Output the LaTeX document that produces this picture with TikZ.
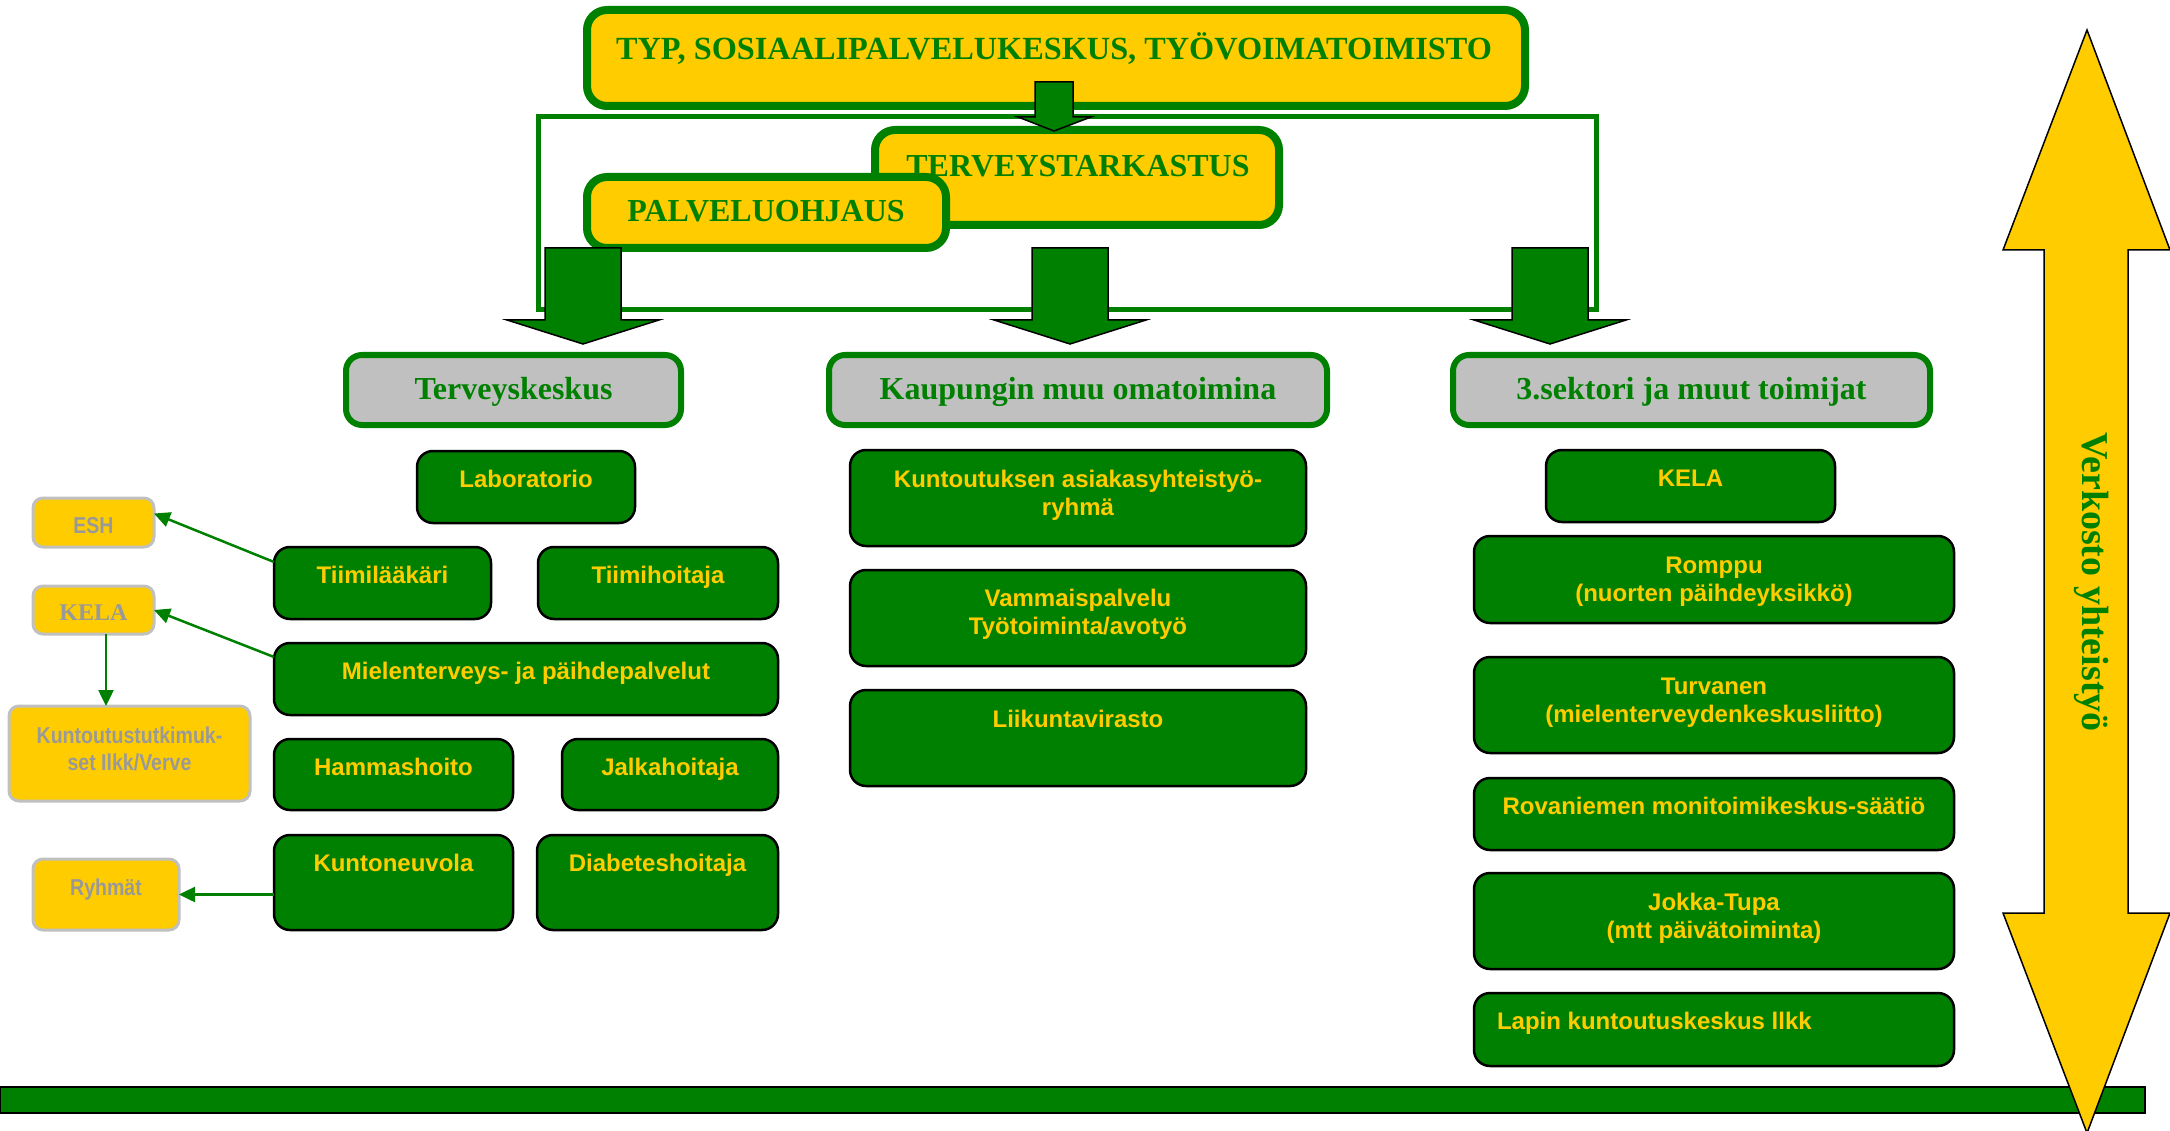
\documentclass[tikz,border=0pt]{standalone}
\usepackage{fontspec}
\setmainfont{Liberation Serif}
\newfontfamily\sansf{Liberation Sans}
\newfontfamily\narrowf[FakeStretch=0.85]{Liberation Sans}
\usetikzlibrary{arrows.meta}
\definecolor{dgreen}{HTML}{008000}
\definecolor{gold}{HTML}{FFCC00}
\definecolor{hgray}{HTML}{C0C0C0}
\definecolor{tgray}{HTML}{999999}
\newcommand\bx[6]{\node[#1, minimum width={(#5)-(#3)}, minimum height={(#6)-(#4)}] (#2) at ({((#3)+(#5))/2},{((#4)+(#6))/2}) {};}
\begin{document}
\begin{tikzpicture}[x=1pt,y=-1pt,
  every node/.style={inner sep=0pt, outer sep=0pt},
  topbox/.style={draw=dgreen, fill=gold, line width=8pt, rounded corners=20pt},
  headbox/.style={draw=dgreen, fill=hgray, line width=6pt, rounded corners=16pt},
  gbx/.style={draw=black, fill=dgreen, line width=2.5pt, rounded corners=16pt},
  ybx/.style={draw=hgray, fill=gold, line width=3pt, rounded corners=10pt},
  frame/.style={draw=dgreen, line width=5pt},
  sertxt/.style={font=\fontsize{32}{36}\selectfont\bfseries, text=dgreen, anchor=base},
  gtxt/.style={font=\sansf\fontsize{24}{28}\selectfont\bfseries, text=gold, anchor=base, align=center},
  ytxt/.style={font=\narrowf\fontsize{23}{27}\selectfont\bfseries, text=tgray, anchor=base, align=center},
  blockarrow/.style={draw=black, fill=dgreen, line width=1.5pt, line join=miter},
  thinarrow/.style={draw=dgreen, line width=2.5pt, -{Triangle[length=16pt,width=15pt]}},
  bigarrow/.style={draw=black, fill=gold, line width=1.5pt, line join=miter},
]
\useasboundingbox (0,0) rectangle (2170,1131);
% bottom bar
\bx{draw=black, fill=dgreen, line width=1.5pt}{bar}{0}{1087}{2145}{1113}
% frame
\bx{frame}{frm}{538}{117}{1596}{310}
% top boxes
\bx{topbox}{typ}{587}{10}{1525}{106}
\node[sertxt, font=\fontsize{32.3}{36}\selectfont\bfseries] (typt) at (1054,60) {TYP, SOSIAALIPALVELUKESKUS, TYÖVOIMATOIMISTO};
\bx{topbox}{ter}{875}{130}{1279}{225}
\node[sertxt] (tert) at (1078,177) {TERVEYSTARKASTUS};
\bx{topbox}{pal}{587}{177}{946}{248}
\node[sertxt] (palt) at (766,222) {PALVELUOHJAUS};
% small block arrow
\coordinate (sa) at (1054,82);
\draw[blockarrow] (sa) ++(-19,0) -- ++(0,35) -- ++(-17,0) -- (1054,131) -- (1091,117) -- ++(-18,0) -- ++(0,-35) -- cycle;
% big block arrows
\foreach \cx/\nm in {583/a1,1070/a2,1550/a3}{
  \coordinate (\nm) at (\cx,248);
  \draw[blockarrow] (\nm) ++(-38,0) -- ++(0,72) -- ++(-38,0) -- ++(76,24) -- ++(76,-24) -- ++(-38,0) -- ++(0,-72) -- cycle;
}
% headers
\bx{headbox}{h1}{346}{355}{681}{425}
\node[sertxt] (h1t) at (513.5,399) {Terveyskeskus};
\bx{headbox}{h2}{829}{355}{1327}{425}
\node[sertxt] (h2t) at (1078,399) {Kaupungin muu omatoimina};
\bx{headbox}{h3}{1453}{355}{1930}{425}
\node[sertxt] (h3t) at (1691.5,399) {3.sektori ja muut toimijat};
% left column
\bx{gbx}{lab}{417}{451}{635}{523}
\node[gtxt] (labt) at (526,487) {Laboratorio};
\bx{gbx}{tl}{274}{547}{491}{619}
\node[gtxt] (tlt) at (382.5,583) {Tiimilääkäri};
\bx{gbx}{th}{538}{547}{778}{619}
\node[gtxt] (tht) at (658,583) {Tiimihoitaja};
\bx{gbx}{mp}{274}{643}{778}{715}
\node[gtxt] (mpt) at (526,679) {Mielenterveys- ja päihdepalvelut};
\bx{gbx}{hs}{274}{739}{513}{810}
\node[gtxt] (hst) at (393.5,775) {Hammashoito};
\bx{gbx}{jh}{562}{739}{778}{810}
\node[gtxt] (jht) at (670,775) {Jalkahoitaja};
\bx{gbx}{kn}{274}{835}{513}{930}
\node[gtxt] (knt) at (393.5,871) {Kuntoneuvola};
\bx{gbx}{dh}{537}{835}{778}{930}
\node[gtxt] (dht) at (657.5,871) {Diabeteshoitaja};
% middle column
\bx{gbx}{ka}{850}{450}{1306}{546}
\node[gtxt] (kat) at (1078,515) {Kuntoutuksen asiakasyhteistyö-\\ryhmä};
\bx{gbx}{vp}{850}{570}{1306}{666}
\node[gtxt] (vpt) at (1078,634) {Vammaispalvelu\\Työtoiminta/avotyö};
\bx{gbx}{lv}{850}{690}{1306}{786}
\node[gtxt] (lvt) at (1078,727) {Liikuntavirasto};
% right column
\bx{gbx}{kela}{1546}{450}{1835}{522}
\node[gtxt] (kelat) at (1690.5,486) {KELA};
\bx{gbx}{ro}{1474}{536}{1954}{623}
\node[gtxt] (rot) at (1714,601) {Romppu\\(nuorten päihdeyksikkö)};
\bx{gbx}{tu}{1474}{657}{1954}{753}
\node[gtxt] (tut) at (1714,722) {Turvanen\\(mielenterveydenkeskusliitto)};
\bx{gbx}{rm}{1474}{778}{1954}{850}
\node[gtxt] (rmt) at (1714,814) {Rovaniemen monitoimikeskus-säätiö};
\bx{gbx}{jt}{1474}{873}{1954}{969}
\node[gtxt] (jtt) at (1714,938) {Jokka-Tupa\\(mtt päivätoiminta)};
\bx{gbx}{lk}{1474}{993}{1954}{1066}
\node[gtxt, anchor=base west] (lkt) at (1497,1029) {Lapin kuntoutuskeskus llkk};
% far left
\bx{ybx}{esh}{33}{498}{154}{547}
\node[ytxt] (esht) at (93.5,533) {ESH};
\bx{ybx}{kl}{33}{586}{154}{634}
\node[ytxt, font=\fontsize{24}{28}\selectfont\bfseries] (klt) at (93.5,620) {KELA};
\bx{ybx}{kt}{9}{706}{250}{801}
\node[ytxt] (ktt) at (129.5,770) {Kuntoutustutkimuk-\\set Ilkk/Verve};
\bx{ybx}{ry}{33}{859}{179}{930}
\node[ytxt] (ryt) at (106,895) {Ryhmät};
% thin arrows
\draw[thinarrow] ([yshift=-15pt]tl.north west) -- ([yshift=9pt]esh.east);
\draw[thinarrow] ([yshift=-14pt]mp.north west) -- (kl.east);
\draw[thinarrow] ([xshift=12.5pt]kl.south) -- ([xshift=12.5pt]kl.south |- kt.north);
\draw[thinarrow] (kn.west |- ry.east) -- (ry.east);
% double arrow
\coordinate (dtop) at (2087,30);
\draw[bigarrow] (dtop) -- (2170,250) -- (2128,250) -- (2128,913) -- (2170,913) -- (2087,1133) -- (2003,913) -- (2044,913) -- (2044,250) -- (2003,250) -- cycle;
\node[font=\fontsize{38}{42}\selectfont\bfseries, text=dgreen, rotate=-90, anchor=base] (vk) at (2082,582) {Verkosto yhteistyö};
\end{tikzpicture}
\end{document}
